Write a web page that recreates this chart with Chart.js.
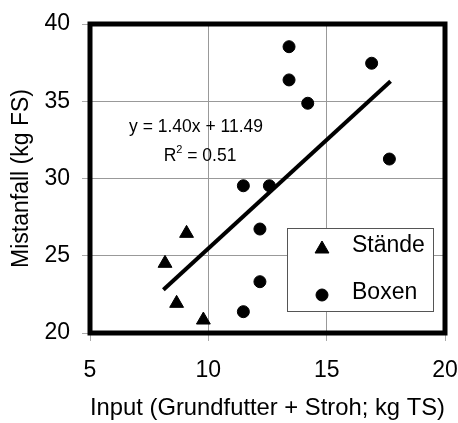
<!DOCTYPE html>
<html><head><meta charset="utf-8">
<script src="https://cdn.jsdelivr.net/npm/chart.js@4.4.0/dist/chart.umd.min.js"></script>
<style>html,body{margin:0;padding:0;background:#fff}#w{width:458px;height:423px}</style>
</head><body>
<div id="w"><canvas id="c" width="458" height="423"></canvas></div>
<script>
// ---- data ----
const seriesNames = ['Stände', 'Boxen'];
const staendeX = [9.08, 8.17, 8.66, 9.79];
const staendeY = [26.45, 24.51, 21.92, 20.84];
const boxenX = [13.41, 13.41, 14.20, 16.90, 17.65, 11.48, 12.58, 12.18, 12.18, 11.48];
const boxenY = [38.53, 36.38, 34.87, 37.46, 31.26, 29.53, 29.53, 26.73, 23.32, 21.38];
const trendX = [8.1, 17.7];
const trendY = [22.8, 36.3];
const xTicks = [5, 10, 15, 20];
const yTicks = [20, 25, 30, 35, 40];
const xTitle = 'Input (Grundfutter + Stroh; kg TS)';
const yTitle = 'Mistanfall (kg FS)';
const eqText = 'y = 1.40x + 11.49';
const r2Text = '0.51';

const FONT = '"Liberation Sans", Arial, Helvetica, sans-serif';
const pts = (xs, ys) => xs.map((v, i) => ({x: v, y: ys[i]}));

const overlay = {
  id: 'overlay',
  afterDatasetsDraw(chart) {
    const {ctx, chartArea: a, scales: {x, y}} = chart;
    ctx.save();
    // regression equation
    ctx.fillStyle = '#000';
    ctx.font = '17.5px ' + FONT;
    ctx.textAlign = 'center';
    ctx.textBaseline = 'middle';
    ctx.fillText(eqText, x.getPixelForValue(9.48), y.getPixelForValue(33.3));
    // R² line
    const cy = y.getPixelForValue(31.45);
    const cx = x.getPixelForValue(9.65);
    const partR = 'R', partSup = '2', partRest = ' = ' + r2Text;
    ctx.font = '17.5px ' + FONT;
    const wR = ctx.measureText(partR).width, wRest = ctx.measureText(partRest).width;
    ctx.font = '11px ' + FONT;
    const wS = ctx.measureText(partSup).width;
    let sx = cx - (wR + wS + wRest) / 2;
    ctx.textAlign = 'left';
    ctx.font = '17.5px ' + FONT;
    ctx.fillText(partR, sx, cy);
    ctx.font = '11px ' + FONT;
    ctx.fillText(partSup, sx + wR, cy - 6);
    ctx.font = '17.5px ' + FONT;
    ctx.fillText(partRest, sx + wR + wS, cy);

    // legend box
    const lx = a.right - 158, ly = a.top + 204, lw = 146, lh = 83;
    ctx.fillStyle = '#fff';
    ctx.fillRect(lx, ly, lw, lh);
    ctx.strokeStyle = '#555';
    ctx.lineWidth = 1;
    ctx.strokeRect(lx + 0.5, ly + 0.5, lw, lh);
    const ds = chart.data.datasets;
    const rows = [ly + 19, ly + 66];
    [0, 1].forEach(i => {
      const d = ds[i];
      ctx.fillStyle = '#000';
      ctx.strokeStyle = '#000';
      ctx.lineWidth = 1;
      Chart.helpers.drawPoint(ctx, {pointStyle: d.pointStyle, radius: d.pointRadius, borderWidth: 1, rotation: 0}, lx + 35, rows[i] + (i === 0 ? 2 : 1));
      ctx.fillStyle = '#000';
      ctx.font = '23px ' + FONT;
      ctx.textAlign = 'left';
      ctx.textBaseline = 'middle';
      ctx.fillText(d.label, lx + 65, rows[i] - 1);
    });

    // thick frame
    ctx.strokeStyle = '#000';
    ctx.lineWidth = 5;
    ctx.strokeRect(a.left, a.top, a.right - a.left, a.bottom - a.top);
    ctx.restore();
  }
};

new Chart(document.getElementById('c'), {
  type: 'scatter',
  data: {
    datasets: [
      {label: seriesNames[0], data: pts(staendeX, staendeY), pointStyle: 'triangle', pointRadius: 8,
       backgroundColor: '#000', borderColor: '#000', borderWidth: 1},
      {label: seriesNames[1], data: pts(boxenX, boxenY), pointStyle: 'circle', pointRadius: 6,
       backgroundColor: '#000', borderColor: '#000', borderWidth: 1},
      {type: 'line', label: 'Trend', data: pts(trendX, trendY), showLine: true, pointRadius: 0,
       borderColor: '#000', borderWidth: 4, fill: false, borderCapStyle: 'butt'}
    ]
  },
  options: {
    responsive: false,
    animation: false,
    layout: {padding: {top: 24, right: 13, left: 0, bottom: 0}},
    plugins: {legend: {display: false}, tooltip: {enabled: false}},
    scales: {
      x: {
        type: 'linear', min: 5, max: 20,
        afterBuildTicks: s => { s.ticks = xTicks.map(v => ({value: v})); },
        afterFit: s => { s.height = 90; s.paddingLeft = 0; s.paddingRight = 0; },
        grid: {color: '#999', lineWidth: 1, tickLength: 8, tickColor: '#aaa'},
        border: {display: false},
        ticks: {color: '#000', padding: 16, font: {family: FONT, size: 23}, maxRotation: 0},
        title: {display: true, text: xTitle, color: '#000', font: {family: FONT, size: 24}, padding: {top: 0, bottom: 0}}
      },
      y: {
        type: 'linear', min: 20, max: 40,
        afterBuildTicks: s => { s.ticks = yTicks.map(v => ({value: v})); },
        afterFit: s => { s.width = 90; s.paddingTop = 0; s.paddingBottom = 0; },
        grid: {color: '#999', lineWidth: 1, tickLength: 8, tickColor: '#aaa'},
        border: {display: false},
        ticks: {color: '#000', padding: 12, font: {family: FONT, size: 23}},
        title: {display: true, text: yTitle, color: '#000', font: {family: FONT, size: 23}, padding: {top: 8, bottom: 0}}
      }
    }
  },
  plugins: [overlay]
});
</script>
</body></html>
